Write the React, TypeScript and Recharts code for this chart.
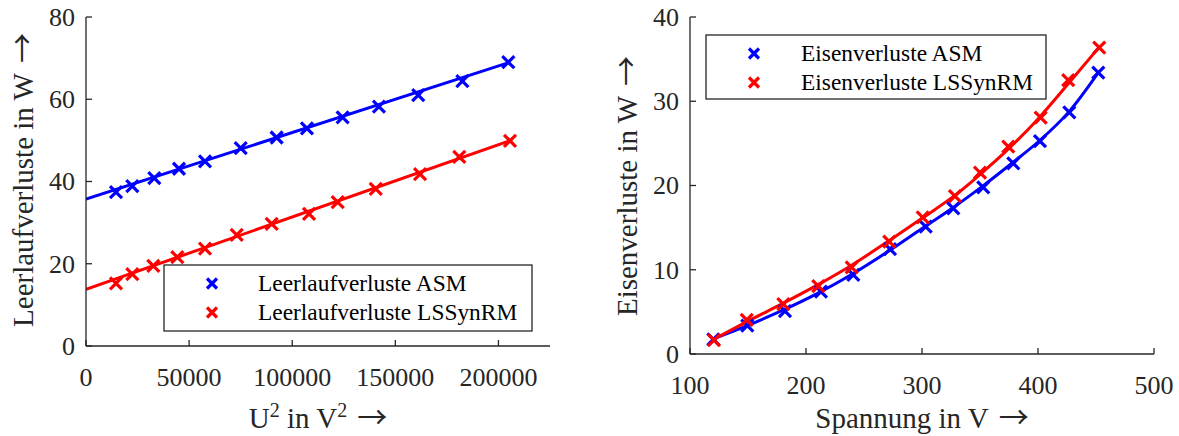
import { ComposedChart, Line, Scatter, XAxis, YAxis } from "recharts";

const FONT = '"Liberation Serif", "Times New Roman", Times, serif';
const ARROW_FONT = '"Noto Sans CJK SC", "DejaVu Sans", sans-serif';
const INK = "#262626";
const BLUE = "#0000ff";
const RED = "#ff0000";

// left panel: no-load losses over U^2
const asmU2 = [14550, 22450, 33120, 45100, 57700, 75000, 92450, 107150, 124450, 142050, 161100, 182500, 204800];
const asmNoLoad = [37.4, 38.9, 40.8, 43.1, 44.9, 48.1, 50.7, 52.9, 55.6, 58.2, 61.0, 64.4, 69.0];
const synU2 = [14550, 22450, 32640, 44280, 57710, 73080, 90050, 108150, 122050, 140500, 162000, 181000, 205600];
const synNoLoad = [15.2, 17.5, 19.5, 21.6, 23.7, 27.0, 29.7, 32.1, 35.0, 38.2, 41.8, 46.0, 49.9];
// fitted straight lines (end points)
const asmFitU2 = [0, 205000];
const asmFitLoss = [35.7, 68.9];
const synFitU2 = [0, 205600];
const synFitLoss = [13.8, 49.9];
const leftXTicks = [0, 50000, 100000, 150000, 200000];
const leftYTicks = [0, 20, 40, 60, 80];

// right panel: iron losses over voltage (measured points)
const asmVolt = [120.1, 149.4, 181.9, 212.9, 240.8, 272.4, 303.2, 327.0, 352.8, 378.7, 401.7, 427.0, 452.0];
const asmIron = [1.74, 3.36, 5.1, 7.39, 9.38, 12.46, 15.11, 17.29, 19.79, 22.63, 25.28, 28.69, 33.39];
const synVolt = [120.7, 148.9, 180.5, 210.6, 239.4, 271.8, 300.6, 328.4, 350.0, 374.4, 402.3, 426.1, 452.8];
const synIron = [1.66, 4.04, 5.93, 8.07, 10.29, 13.33, 16.22, 18.75, 21.52, 24.61, 28.05, 32.52, 36.36];
// smoothed curves as drawn in the plot
const asmCurveVolt = [120, 150, 180, 210, 240, 270, 300, 327, 352, 378, 402, 427, 452];
const asmCurveIron = [1.8, 3.4, 5.2, 7.2, 9.5, 12.1, 14.9, 17.4, 19.9, 22.7, 25.4, 28.8, 33.4];
const synCurveVolt = [120, 150, 180, 210, 240, 270, 300, 330, 350, 375, 400, 425, 452];
const synCurveIron = [1.7, 3.9, 6.0, 8.2, 10.6, 13.3, 16.1, 19.0, 21.3, 24.4, 27.9, 31.9, 36.3];
const rightXTicks = [100, 200, 300, 400, 500];
const rightYTicks = [0, 10, 20, 30, 40];

const leftNames = ["Leerlaufverluste ASM", "Leerlaufverluste LSSynRM"];
const rightNames = ["Eisenverluste ASM", "Eisenverluste LSSynRM"];

const zip = (xs: number[], ys: number[]) => xs.map((x, i) => ({ x, y: ys[i] }));

const TICK_FS = 26;
const TICK_LEN = 6;

function BottomTick(props: any) {
  const { x, y, payload } = props;
  return (
    <g>
      <line x1={x} x2={x} y1={y} y2={y - TICK_LEN} stroke={INK} strokeWidth={1.3} />
      <text x={x} y={y + 40} textAnchor="middle" fontFamily={FONT} fontSize={TICK_FS} fill={INK}>
        {payload.value}
      </text>
    </g>
  );
}

function TopTick(props: any) {
  const { x, y } = props;
  return <line x1={x} x2={x} y1={y} y2={y + TICK_LEN} stroke={INK} strokeWidth={1.3} />;
}

function LeftTick(props: any) {
  const { x, y, payload } = props;
  return (
    <g>
      <line x1={x} x2={x + TICK_LEN} y1={y} y2={y} stroke={INK} strokeWidth={1.3} />
      <text x={x - 11} y={y} dy="0.34em" textAnchor="end" fontFamily={FONT} fontSize={TICK_FS} fill={INK}>
        {payload.value}
      </text>
    </g>
  );
}

function RightTick(props: any) {
  const { x, y } = props;
  return <line x1={x} x2={x - TICK_LEN} y1={y} y2={y} stroke={INK} strokeWidth={1.3} />;
}

function cross(color: string, r: number) {
  return (props: any) => {
    const { cx, cy } = props;
    if (cx == null || cy == null) return <g />;
    return (
      <g stroke={color} strokeWidth={3.2}>
        <line x1={cx - r} y1={cy - r} x2={cx + r} y2={cy + r} />
        <line x1={cx - r} y1={cy + r} x2={cx + r} y2={cy - r} />
      </g>
    );
  };
}

type Series = { data: { x: number; y: number }[]; color: string };

function Panel(p: {
  w: number;
  h: number;
  margin: { top: number; right: number; bottom: number; left: number };
  xDomain: [number, number];
  yDomain: [number, number];
  xTicks: number[];
  yTicks: number[];
  curves: Series[];
  markers: Series[];
  curveType: "linear" | "monotone" | "natural";
}) {
  const axisLine = { stroke: INK, strokeWidth: 1.3 };
  return (
    <ComposedChart width={p.w} height={p.h} margin={p.margin}>
      <XAxis
        xAxisId="b"
        dataKey="x"
        type="number"
        domain={p.xDomain}
        ticks={p.xTicks}
        interval={0}
        allowDataOverflow
        height={50}
        tickSize={0}
        tickMargin={0}
        tickLine={false}
        axisLine={axisLine}
        tick={<BottomTick />}
      />
      <XAxis
        xAxisId="t"
        orientation="top"
        dataKey="x"
        type="number"
        domain={p.xDomain}
        ticks={p.xTicks}
        interval={0}
        allowDataOverflow
        height={0}
        tickSize={0}
        tickMargin={0}
        tickLine={false}
        axisLine={axisLine}
        tick={<TopTick />}
      />
      <YAxis
        yAxisId="l"
        type="number"
        domain={p.yDomain}
        ticks={p.yTicks}
        interval={0}
        allowDataOverflow
        width={60}
        tickSize={0}
        tickMargin={0}
        tickLine={false}
        axisLine={axisLine}
        tick={<LeftTick />}
      />
      <YAxis
        yAxisId="r"
        orientation="right"
        type="number"
        domain={p.yDomain}
        ticks={p.yTicks}
        interval={0}
        allowDataOverflow
        width={0}
        tickSize={0}
        tickMargin={0}
        tickLine={false}
        axisLine={axisLine}
        tick={<RightTick />}
      />
      {p.curves.map((c, i) => (
        <Line
          key={"c" + i}
          xAxisId="b"
          yAxisId="l"
          data={c.data}
          dataKey="y"
          type={p.curveType}
          stroke={c.color}
          strokeWidth={3}
          dot={false}
          activeDot={false}
          legendType="none"
          isAnimationActive={false}
        />
      ))}
      {p.markers.map((m, i) => (
        <Scatter
          key={"m" + i}
          xAxisId="b"
          yAxisId="l"
          data={m.data}
          dataKey="y"
          shape={cross(m.color, 6)}
          legendType="none"
          isAnimationActive={false}
        />
      ))}
    </ComposedChart>
  );
}

function LegendBox(p: { x: number; y: number; w: number; h: number; names: string[]; textX: number }) {
  const colors = [BLUE, RED];
  const rows = [p.y + 18.5, p.y + 47.5];
  return (
    <g>
      <rect x={p.x} y={p.y} width={p.w} height={p.h} fill="#fff" stroke={INK} strokeWidth={1.3} />
      {p.names.map((n, i) => (
        <g key={n}>
          <g stroke={colors[i]} strokeWidth={3.2}>
            <line x1={p.x + 48 - 5} y1={rows[i] - 5} x2={p.x + 48 + 5} y2={rows[i] + 5} />
            <line x1={p.x + 48 - 5} y1={rows[i] + 5} x2={p.x + 48 + 5} y2={rows[i] - 5} />
          </g>
          <text x={p.x + p.textX} y={rows[i]} dy="0.33em" fontFamily={FONT} fontSize={23.4} fill="#000">
            {n}
          </text>
        </g>
      ))}
    </g>
  );
}

function Arrow() {
  return (
    <tspan dx={10} fontFamily={ARROW_FONT} fontSize={30}>
      →
    </tspan>
  );
}

export default function App() {
  const labelStyle = { fontFamily: FONT, fontSize: 29, fill: INK };
  return (
    <div style={{ position: "absolute", left: 0, top: 0, width: 1179, height: 436, background: "#fff" }}>
      <div style={{ position: "absolute", left: 0, top: 0 }}>
        <Panel
          w={560}
          h={436}
          margin={{ top: 17, right: 10, bottom: 40, left: 26 }}
          xDomain={[0, 225000]}
          yDomain={[0, 80]}
          xTicks={leftXTicks}
          yTicks={leftYTicks}
          curveType="linear"
          curves={[
            { data: zip(asmFitU2, asmFitLoss), color: BLUE },
            { data: zip(synFitU2, synFitLoss), color: RED },
          ]}
          markers={[
            { data: zip(asmU2, asmNoLoad), color: BLUE },
            { data: zip(synU2, synNoLoad), color: RED },
          ]}
        />
      </div>
      <div style={{ position: "absolute", left: 590, top: 0 }}>
        <Panel
          w={589}
          h={436}
          margin={{ top: 17, right: 25, bottom: 32, left: 40 }}
          xDomain={[100, 500]}
          yDomain={[0, 40]}
          xTicks={rightXTicks}
          yTicks={rightYTicks}
          curveType="monotone"
          curves={[
            { data: zip(asmCurveVolt, asmCurveIron), color: BLUE },
            { data: zip(synCurveVolt, synCurveIron), color: RED },
          ]}
          markers={[
            { data: zip(asmVolt, asmIron), color: BLUE },
            { data: zip(synVolt, synIron), color: RED },
          ]}
        />
      </div>
      <svg
        width={1179}
        height={436}
        style={{ position: "absolute", left: 0, top: 0, pointerEvents: "none" }}
      >
        <LegendBox x={164} y={265} w={368} h={66} names={leftNames} textX={94} />
        <LegendBox x={706} y={35} w={340} h={64} names={rightNames} textX={95} />
        <text transform="translate(33,180) rotate(-90)" textAnchor="middle" {...labelStyle}>
          Leerlaufverluste in W
          <Arrow />
        </text>
        <text transform="translate(637,186) rotate(-90)" textAnchor="middle" {...labelStyle}>
          Eisenverluste in W
          <Arrow />
        </text>
        <text x={318} y={428} textAnchor="middle" {...labelStyle}>
          U
          <tspan dy={-11} fontSize={20}>
            2
          </tspan>
          <tspan dy={11}> in V</tspan>
          <tspan dy={-11} fontSize={20}>
            2
          </tspan>
          <tspan dy={11} dx={10} fontFamily={ARROW_FONT} fontSize={30}>
            →
          </tspan>
        </text>
        <text x={922} y={428} textAnchor="middle" {...labelStyle}>
          Spannung in V
          <Arrow />
        </text>
      </svg>
    </div>
  );
}
